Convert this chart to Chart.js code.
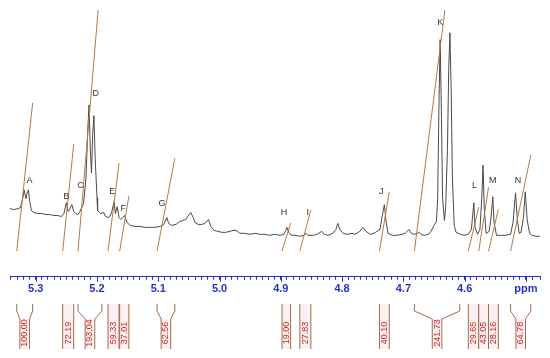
<!DOCTYPE html>
<html>
<head>
<meta charset="utf-8">
<script src="https://cdn.jsdelivr.net/npm/chart.js@4"></script>
<style>
  body { margin: 0; background: #fff; }
  #wrap { width: 550px; height: 358px; position: relative; }
</style>
</head>
<body>
<div id="wrap"><canvas id="nmr"></canvas></div>
<script>
// spectrum trace, chemical shift (ppm) and intensity (arb. units)
const ppm = [5.342, 5.336, 5.329, 5.325, 5.321, 5.319, 5.316, 5.315, 5.312, 5.310, 5.307, 5.303, 5.297, 5.290,
  5.284, 5.277, 5.271, 5.264, 5.258, 5.254, 5.250, 5.247, 5.244, 5.241, 5.238, 5.235, 5.231, 5.228, 5.225,
  5.222, 5.218, 5.215, 5.213, 5.211, 5.209, 5.207, 5.205, 5.203, 5.200, 5.199, 5.194, 5.189, 5.186, 5.182,
  5.179, 5.176, 5.172, 5.170, 5.167, 5.164, 5.161, 5.158, 5.155, 5.151, 5.146, 5.138, 5.130, 5.122, 5.114,
  5.106, 5.097, 5.091, 5.086, 5.083, 5.078, 5.071, 5.065, 5.060, 5.055, 5.052, 5.047, 5.043, 5.040, 5.035,
  5.029, 5.024, 5.018, 5.014, 5.009, 5.003, 4.996, 4.990, 4.983, 4.978, 4.973, 4.967, 4.959, 4.950, 4.942,
  4.934, 4.926, 4.918, 4.910, 4.901, 4.895, 4.892, 4.890, 4.887, 4.883, 4.877, 4.869, 4.862, 4.859, 4.856,
  4.847, 4.841, 4.833, 4.829, 4.823, 4.815, 4.810, 4.807, 4.803, 4.798, 4.792, 4.784, 4.779, 4.771, 4.766,
  4.761, 4.754, 4.748, 4.743, 4.738, 4.735, 4.731, 4.728, 4.725, 4.718, 4.710, 4.702, 4.697, 4.694, 4.691,
  4.687, 4.682, 4.677, 4.674, 4.671, 4.666, 4.659, 4.655, 4.650, 4.646, 4.644, 4.642, 4.640, 4.638, 4.636,
  4.633, 4.631, 4.628, 4.626, 4.624, 4.622, 4.620, 4.617, 4.614, 4.607, 4.601, 4.594, 4.589, 4.585, 4.583,
  4.579, 4.575, 4.572, 4.570, 4.568, 4.565, 4.560, 4.557, 4.554, 4.552, 4.548, 4.542, 4.534, 4.525, 4.521,
  4.517, 4.514, 4.511, 4.508, 4.504, 4.501, 4.498, 4.494, 4.490, 4.483, 4.477];
const intensity = [29, 28, 29, 30, 40, 48, 39, 43, 48, 37, 27, 25, 24, 24,
  23, 23, 22, 22, 21, 24, 35, 26, 29, 33, 26, 24, 23, 26, 30,
  34, 60, 110, 134, 90, 65, 105, 123, 80, 40, 27, 24, 25, 21, 20,
  21, 26, 36, 24, 31, 20, 18, 20, 22, 15, 12, 11, 11, 10, 10,
  10, 11, 13, 20, 14, 12, 13, 16, 17, 18, 21, 25, 20, 15, 13,
  13, 14, 18, 11, 7, 6, 5, 5, 6, 7, 7, 4, 4, 3, 4,
  3, 3, 2, 3, 2, 3, 7, 10, 5, 2, 2, 1, 2, 4, 2,
  2, 3, 6, 3, 2, 4, 8, 14, 7, 4, 3, 4, 3, 6, 10,
  6, 3, 4, 6, 8, 20, 33, 15, 4, 2, 2, 3, 4, 6, 8,
  4, 3, 4, 5, 3, 2, 3, 6, 12, 16, 40, 130, 200, 130, 40,
  17, 30, 90, 170, 207, 150, 60, 12, 5, 3, 2, 3, 8, 35, 10,
  3, 8, 40, 73, 30, 4, 6, 20, 41, 15, 2, 2, 2, 3, 15,
  45, 18, 4, 5, 20, 46, 18, 4, 2, 1, 1];

// peak letters: position (ppm) and height of the letter
const peakNames = ["A", "B", "C", "D", "E", "F", "G", "H", "I", "J", "K", "L", "M", "N"];
const peakPpm = [5.310, 5.250, 5.227, 5.202, 5.175, 5.157, 5.094, 4.895, 4.856, 4.736, 4.640, 4.584, 4.554, 4.513];
const peakLabelY = [57, 41, 52, 145, 46, 29, 34, 25, 25, 46, 217, 52, 57, 57];

// integration regions
const intStart = [5.331, 5.256, 5.231, 5.182, 5.163, 5.102, 4.898, 4.869, 4.739, 4.682, 4.594, 4.577, 4.561, 4.525];
const intEnd = [5.305, 5.238, 5.192, 5.164, 5.148, 5.073, 4.884, 4.851, 4.723, 4.608, 4.577, 4.561, 4.545, 4.492];
const intValues = [100.00, 72.19, 193.04, 59.33, 37.01, 62.56, 19.00, 27.83, 40.10, 241.73, 29.65, 43.05, 28.16, 64.78];

const blue = "#2233cc";
const intColor = "#b37a42";
const font = "'Liberation Sans', Arial, sans-serif";

const datasets = [];
intValues.forEach(function (v, i) {
  datasets.push({
    data: [{ x: intStart[i], y: 0 }, { x: intEnd[i], y: v }],
    yAxisID: "yi",
    borderColor: intColor,
    borderWidth: 1,
    pointRadius: 0,
    order: 0,
  });
});
datasets.push({
  data: ppm.map((p, i) => ({ x: p, y: intensity[i] })),
  yAxisID: "y",
  borderColor: "#4a4a4a",
  borderWidth: 1,
  pointRadius: 0,
  tension: 0,
  order: 1,
});

// letters, long ticks and integral brackets under the axis
const nmrExtras = {
  id: "nmrExtras",
  afterDraw(chart) {
    const ctx = chart.ctx;
    const xs = chart.scales.x;
    const ys = chart.scales.y;
    const area = chart.chartArea;
    ctx.save();

    // major ticks
    ctx.strokeStyle = blue;
    ctx.lineWidth = 1;
    for (let t = 45; t <= 53; t++) {
      const px = Math.round(xs.getPixelForValue(t / 10)) + 0.5;
      ctx.beginPath();
      ctx.moveTo(px, area.bottom);
      ctx.lineTo(px, area.bottom + 5);
      ctx.stroke();
    }

    // peak letters
    ctx.fillStyle = "#333";
    ctx.font = "9px " + font;
    ctx.textAlign = "center";
    ctx.textBaseline = "middle";
    peakNames.forEach(function (n, i) {
      ctx.fillText(n, xs.getPixelForValue(peakPpm[i]), ys.getPixelForValue(peakLabelY[i]));
    });

    // integral brackets
    const top = 304, bend1 = 311, bend2 = 319, bottom = 349, half = 4.8;
    intValues.forEach(function (v, i) {
      const a = xs.getPixelForValue(intStart[i]);
      const b = xs.getPixelForValue(intEnd[i]);
      const l = Math.min(a, b), r = Math.max(a, b);
      const c = (l + r) / 2;
      const wide = r - l > 13;
      const il = wide ? c - half : l;
      const ir = wide ? c + half : r;

      ctx.fillStyle = "#fdf0f3";
      ctx.fillRect(il, wide ? bend2 : top, ir - il, bottom - (wide ? bend2 : top));

      ctx.strokeStyle = "#9c6e4c";
      ctx.beginPath();
      if (wide) {
        ctx.moveTo(l, top); ctx.lineTo(l, bend1); ctx.lineTo(il, bend2); ctx.lineTo(il, bottom);
        ctx.moveTo(r, top); ctx.lineTo(r, bend1); ctx.lineTo(ir, bend2); ctx.lineTo(ir, bottom);
      } else {
        ctx.moveTo(l, top); ctx.lineTo(l, bottom);
        ctx.moveTo(r, top); ctx.lineTo(r, bottom);
      }
      ctx.stroke();

      ctx.save();
      ctx.translate(c, 333);
      ctx.rotate(-Math.PI / 2);
      ctx.fillStyle = "#d42020";
      ctx.font = "9px " + font;
      ctx.textAlign = "center";
      ctx.textBaseline = "middle";
      ctx.fillText(v.toFixed(2), 0, 0);
      ctx.restore();
    });
    ctx.restore();
  },
};

new Chart(document.getElementById("nmr"), {
  type: "line",
  data: { datasets: datasets },
  options: {
    responsive: true,
    maintainAspectRatio: false,
    animation: false,
    layout: { padding: { top: 10, left: 10, right: 10, bottom: 59 } },
    plugins: { legend: { display: false }, tooltip: { enabled: false } },
    scales: {
      x: {
        type: "linear",
        reverse: true,
        min: 4.477,
        max: 5.342,
        border: { color: blue, width: 1 },
        grid: { drawOnChartArea: false, tickLength: 3, tickColor: blue },
        ticks: {
          stepSize: 0.01,
          autoSkip: false,
          maxRotation: 0,
          minRotation: 0,
          padding: 3,
          color: blue,
          font: { family: font, size: 11, weight: "bold" },
          callback: function (v) {
            const r = Math.round(v * 100);
            if (r % 10 !== 0) return "";
            return r === 450 ? "ppm" : (r / 100).toFixed(1);
          },
        },
      },
      y: { display: false, min: -40, max: 230 },
      yi: { display: false, min: -17.33, max: 162.67 },
    },
  },
  plugins: [nmrExtras],
});
</script>
</body>
</html>
